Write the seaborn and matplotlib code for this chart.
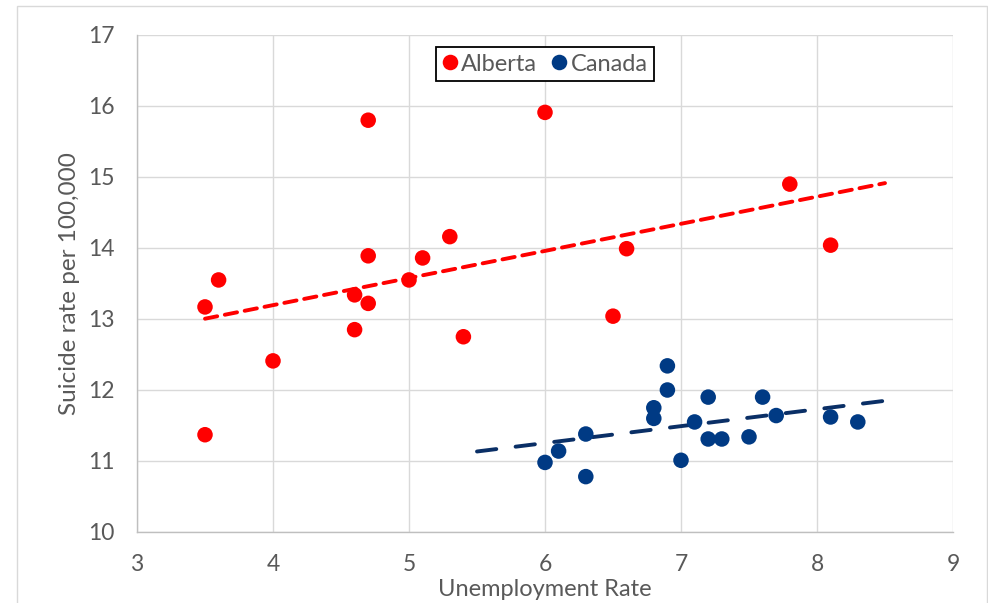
"""
plot.py — Alberta vs Canada: suicide rate against unemployment rate
Scatter of yearly observations with a linear trend line per region.

Produces:
  out.png
"""

import numpy as np
import pandas as pd
import matplotlib
matplotlib.use("Agg")
import matplotlib.pyplot as plt
from matplotlib.lines import Line2D
from matplotlib.patches import Rectangle
import seaborn as sns

# ── data ─────────────────────────────────────────────────────────────────────

alberta_unemp = [3.5, 3.5, 3.6, 4.0, 4.6, 4.6, 4.7, 4.7, 4.7,
                 5.0, 5.1, 5.3, 5.4, 6.0, 6.5, 6.6, 7.8, 8.1]
alberta_rate = [13.17, 11.37, 13.55, 12.41, 13.34, 12.85, 15.80, 13.89, 13.22,
                13.55, 13.86, 14.16, 12.75, 15.91, 13.04, 13.99, 14.90, 14.04]

canada_unemp = [6.0, 6.1, 6.3, 6.3, 6.8, 6.8, 6.9, 6.9, 7.0,
                7.1, 7.2, 7.2, 7.3, 7.5, 7.6, 7.7, 8.1, 8.3]
canada_rate = [10.98, 11.14, 11.38, 10.78, 11.75, 11.60, 12.34, 12.00, 11.01,
               11.55, 11.90, 11.31, 11.31, 11.34, 11.90, 11.64, 11.62, 11.55]

regions = ["Alberta", "Canada"]
x_ticks = [3, 4, 5, 6, 7, 8, 9]
y_ticks = [10, 11, 12, 13, 14, 15, 16, 17]

# trend-line spans (Excel trendline with forecast)
trend_span = {"Alberta": (3.5, 8.5), "Canada": (5.5, 8.5)}

# ── style ────────────────────────────────────────────────────────────────────

sns.set_style("white")
plt.rcParams["font.family"] = ["Lato", "DejaVu Sans"]

TEXT = "#595959"
GRID = "#D9D9D9"
point_colors = {"Alberta": "#FF0000", "Canada": "#003A84"}
line_colors = {"Alberta": "#FF0000", "Canada": "#0A2F66"}
line_dashes = {"Alberta": (3.2, 2.0), "Canada": (5.0, 5.0)}

# ── build frame ──────────────────────────────────────────────────────────────

df = pd.concat([
    pd.DataFrame({"unemp": alberta_unemp, "rate": alberta_rate, "region": "Alberta"}),
    pd.DataFrame({"unemp": canada_unemp, "rate": canada_rate, "region": "Canada"}),
], ignore_index=True)

# ── figure ───────────────────────────────────────────────────────────────────

fig = plt.figure(figsize=(9.88, 6.03), dpi=100)
ax = fig.add_axes([137 / 988, 1 - 532 / 603, 816 / 988, 497 / 603])

# chart-area border
fig.patches.append(Rectangle((16.5 / 988, -0.05), 970 / 988, 1 - 5.5 / 603 + 0.05,
                             transform=fig.transFigure, fill=False,
                             edgecolor=GRID, lw=1.0, zorder=0))

ax.grid(True, color=GRID, lw=1.0)
ax.set_axisbelow(True)

# trend lines
for reg in regions:
    sub = df[df["region"] == reg]
    slope, icpt = np.polyfit(sub["unemp"], sub["rate"], 1)
    xs = np.array(trend_span[reg])
    ax.plot(xs, slope * xs + icpt, color=line_colors[reg], lw=2.8,
            dashes=line_dashes[reg], dash_capstyle="round", zorder=3)

sns.scatterplot(data=df, x="unemp", y="rate", hue="region",
                palette=point_colors, hue_order=regions,
                s=125, linewidth=0, legend=False, ax=ax, zorder=4)

ax.set_xlim(3, 9)
ax.set_ylim(10, 17)
ax.set_xticks(x_ticks)
ax.set_yticks(y_ticks)
ax.tick_params(length=0, labelsize=16.5, colors=TEXT)
ax.tick_params(axis="y", pad=16)
ax.tick_params(axis="x", pad=16)

for side in ["top", "right"]:
    ax.spines[side].set_visible(False)
for side in ["left", "bottom"]:
    ax.spines[side].set_color("#BFBFBF")
    ax.spines[side].set_linewidth(1.0)

ax.set_xlabel("Unemployment Rate", fontsize=17, color=TEXT, labelpad=3)
ax.set_ylabel("Suicide rate per 100,000", fontsize=17.5, color=TEXT, labelpad=6)

handles = [Line2D([], [], ls="none", marker="o", markersize=11.2,
                  markerfacecolor=point_colors[r], markeredgewidth=0)
           for r in regions]
leg = ax.legend(handles, regions, loc="upper center", bbox_to_anchor=(0.5, 0.976),
                ncol=2, fontsize=17, frameon=True, fancybox=False, framealpha=1,
                handlelength=0.6, handletextpad=0.2, columnspacing=0.6,
                borderpad=0.28, borderaxespad=0)
leg.get_frame().set_edgecolor("black")
leg.get_frame().set_linewidth(1.3)
for t in leg.get_texts():
    t.set_color(TEXT)

fig.savefig("out.png", dpi=100)
plt.close(fig)
